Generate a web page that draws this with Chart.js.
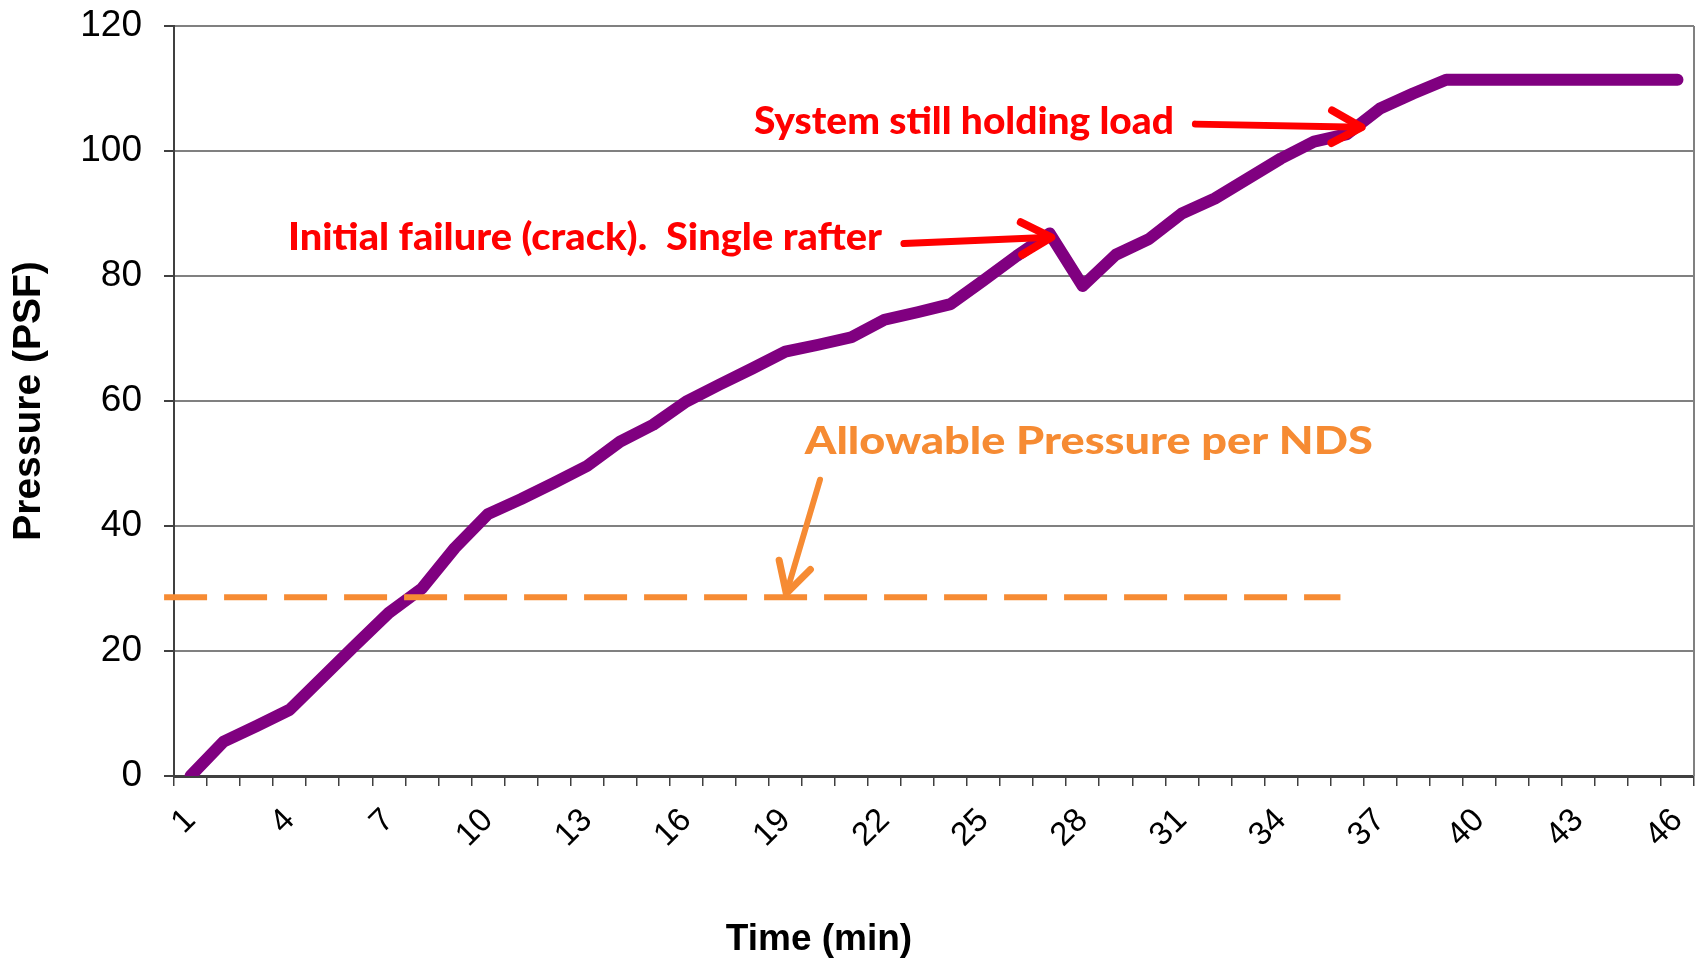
<!DOCTYPE html>
<html>
<head>
<meta charset="utf-8">
<title>Pressure vs time</title>
<script src="https://cdn.jsdelivr.net/npm/chart.js@4.4.1/dist/chart.umd.min.js"></script>
<style>
  html, body { margin: 0; padding: 0; background: #fff; }
  canvas { display: block; }
</style>
</head>
<body>
<canvas id="chart" width="1704" height="960"></canvas>
<script>
// time in minutes (categories)
const minutes = [1, 2, 3, 4, 5, 6, 7, 8, 9, 10, 11, 12, 13, 14, 15, 16, 17, 18, 19, 20, 21, 22, 23,
  24, 25, 26, 27, 28, 29, 30, 31, 32, 33, 34, 35, 36, 37, 38, 39, 40, 41, 42, 43, 44, 45, 46];

// measured roof pressure (PSF)
const pressure = [0, 5.5, 8.0, 10.6, 15.8, 21.0, 26.1, 30.0, 36.5, 41.9, 44.3, 46.9, 49.6, 53.5,
  56.2, 59.9, 62.6, 65.2, 67.9, 69.0, 70.2, 73.0, 74.2, 75.5, 79.3, 83.2, 86.8, 78.4, 83.4, 85.9,
  90.0, 92.4, 95.6, 98.8, 101.5, 102.7, 106.8, 109.2, 111.4, 111.4, 111.4, 111.4, 111.4, 111.4,
  111.4, 111.4];

// allowable pressure per NDS (dashed reference line), in minutes / PSF
const allowableMinutes = [0.2, 35.8];
const allowablePressure = [28.6, 28.6];

// annotation texts, placed in data units (minutes, PSF)
const notes = [
  { text: 'System still holding load', color: '#FF0000', x: 18.05, y: 102.8, width: 420 },
  { text: 'Initial failure (crack).  Single rafter', color: '#FF0000', x: 3.95, y: 84.2, width: 594 },
  { text: 'Allowable Pressure per NDS', color: '#F68B33', x: 19.59, y: 51.6, width: 568 },
];

const arrows = [
  { from: [22.59, 85.2], to: [27.05, 86.2], color: '#FF0000', width: 7 },
  { from: [31.41, 104.3], to: [36.44, 103.8], color: '#FF0000', width: 7 },
  { from: [20.05, 47.4], to: [19.03, 29.2], color: '#F68B33', width: 6 },
];

const overlay = {
  id: 'overlay',
  beforeDatasetsDraw(chart) {
    const { ctx, chartArea } = chart;
    ctx.save();
    ctx.strokeStyle = '#808080';
    ctx.lineWidth = 2;
    ctx.beginPath();
    ctx.moveTo(chartArea.right, chartArea.top);
    ctx.lineTo(chartArea.right, chartArea.bottom);
    ctx.stroke();
    ctx.restore();
  },
  afterDatasetsDraw(chart) {
    const { ctx, scales } = chart;
    const px = (v) => scales.x2.getPixelForValue(v);
    const py = (v) => scales.y.getPixelForValue(v);
    ctx.save();

    arrows.forEach((a) => {
      const x0 = px(a.from[0]), y0 = py(a.from[1]);
      const x1 = px(a.to[0]), y1 = py(a.to[1]);
      const ang = Math.atan2(y1 - y0, x1 - x0);
      const head = 34, spread = 0.5;
      ctx.strokeStyle = a.color;
      ctx.lineWidth = a.width;
      ctx.lineCap = 'round';
      ctx.lineJoin = 'round';
      ctx.beginPath();
      ctx.moveTo(x0, y0);
      ctx.lineTo(x1, y1);
      ctx.stroke();
      ctx.lineWidth = a.width + 1;
      ctx.beginPath();
      ctx.moveTo(x1 - head * Math.cos(ang - spread), y1 - head * Math.sin(ang - spread));
      ctx.lineTo(x1, y1);
      ctx.lineTo(x1 - head * Math.cos(ang + spread), y1 - head * Math.sin(ang + spread));
      ctx.stroke();
    });

    // condensed heavy text, squeezed to the width it has in the source
    notes.forEach((n) => {
      ctx.save();
      ctx.font = '900 38px Lato';
      const sx = n.width / ctx.measureText(n.text).width;
      ctx.translate(px(n.x), py(n.y));
      ctx.scale(sx, 1);
      ctx.fillStyle = n.color;
      ctx.textAlign = 'left';
      ctx.textBaseline = 'alphabetic';
      ctx.fillText(n.text, 0, 0);
      ctx.restore();
    });

    ctx.restore();
  },
  afterDraw(chart) {
    const { ctx } = chart;
    ctx.save();
    ctx.font = 'bold 37px "Liberation Sans"';
    ctx.fillStyle = '#000';
    ctx.textAlign = 'center';
    ctx.textBaseline = 'alphabetic';
    ctx.fillText('Time (min)', 819, 950);
    ctx.restore();
  },
};

new Chart(document.getElementById('chart'), {
  type: 'line',
  data: {
    labels: minutes,
    datasets: [
      {
        label: 'Allowable Pressure per NDS',
        xAxisID: 'x2',
        data: allowableMinutes.map((m, i) => ({ x: m, y: allowablePressure[i] })),
        borderColor: '#F68B33',
        borderWidth: 6,
        borderDash: [43, 17],
        pointRadius: 0,
        clip: false,
        order: 0,
      },
      {
        label: 'Pressure (PSF)',
        data: pressure,
        borderColor: '#800080',
        borderWidth: 12,
        borderCapStyle: 'round',
        borderJoinStyle: 'round',
        pointRadius: 0,
        tension: 0,
        order: 1,
      },
    ],
  },
  options: {
    responsive: false,
    animation: false,
    devicePixelRatio: 1,
    layout: { padding: { top: 26, right: 10, left: 0, bottom: 0 } },
    plugins: {
      legend: { display: false },
      tooltip: { enabled: false },
    },
    scales: {
      x: {
        type: 'category',
        offset: true,
        afterFit: (scale) => {
          scale.height = 184;
          scale.paddingLeft = 0;
          scale.paddingRight = 0;
        },
        grid: {
          offset: true,
          drawOnChartArea: false,
          tickLength: 10,
          color: '#404040',
          lineWidth: 1.5,
        },
        border: { color: '#404040', width: 3 },
        ticks: {
          autoSkip: false,
          maxRotation: 45,
          minRotation: 45,
          padding: 15,
          color: '#000',
          font: { family: '"Liberation Sans"', size: 33 },
          callback: (val, idx) => (idx % 3 === 0 ? minutes[idx] : ''),
        },
      },
      x2: {
        type: 'linear',
        display: false,
        min: 0.5,
        max: 46.5,
      },
      y: {
        min: 0,
        max: 120,
        afterFit: (scale) => {
          scale.width = 174;
          scale.paddingTop = 0;
          scale.paddingBottom = 0;
        },
        ticks: {
          stepSize: 20,
          padding: 22,
          color: '#000',
          font: { family: '"Liberation Sans"', size: 37 },
        },
        grid: {
          color: '#808080',
          lineWidth: 2,
          tickLength: 10,
          tickColor: '#404040',
        },
        border: { color: '#404040', width: 2 },
        title: {
          display: true,
          text: 'Pressure (PSF)',
          color: '#000',
          font: { family: '"Liberation Sans"', size: 39, weight: 'bold' },
          padding: { top: 6, bottom: 0 },
        },
      },
    },
  },
  plugins: [overlay],
});
</script>
</body>
</html>
